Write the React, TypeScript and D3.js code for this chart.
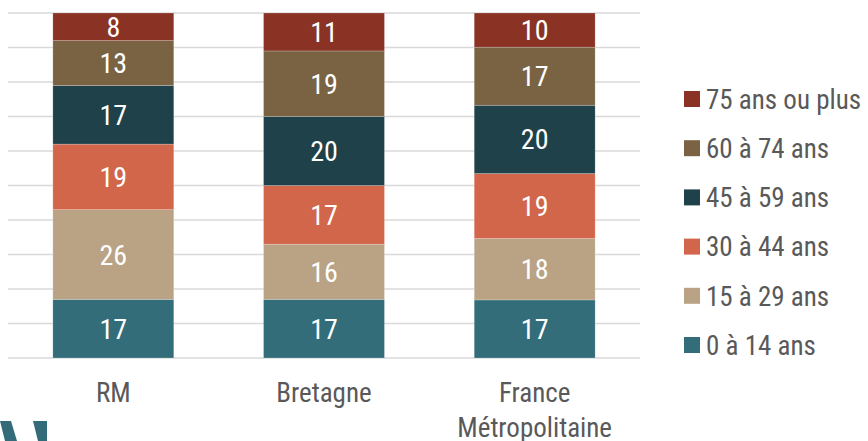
import React from "react";
import * as d3 from "d3";

const categories = ["RM", "Bretagne", "France Métropolitaine"];
const categoryLines = [["RM"], ["Bretagne"], ["France", "Métropolitaine"]];
const seriesNames = ["0 à 14 ans", "15 à 29 ans", "30 à 44 ans", "45 à 59 ans", "60 à 74 ans", "75 ans ou plus"];
const age0_14 = [17, 17, 17];
const age15_29 = [26, 16, 18];
const age30_44 = [19, 17, 19];
const age45_59 = [17, 20, 20];
const age60_74 = [13, 19, 17];
const age75plus = [8, 11, 10];
const colors = ["#326d79", "#b9a384", "#d2664b", "#1f414a", "#7a6343", "#8a3324"];
const gridTicks = [0, 0.1, 0.2, 0.3, 0.4, 0.5, 0.6, 0.7, 0.8, 0.9, 1];

const W = 868;
const H = 441;
const FONT = "'Roboto Condensed', Roboto, 'Noto Sans', sans-serif";

export default function App() {
  const seriesValues = [age0_14, age15_29, age30_44, age45_59, age60_74, age75plus];
  const rows = categories.map((c, i) => {
    const r: any = { cat: c };
    seriesNames.forEach((s, k) => (r[s] = seriesValues[k][i]));
    return r;
  });
  const stack = d3.stack<any>().keys(seriesNames).offset(d3.stackOffsetExpand);
  const stacked = stack(rows);

  const x = d3.scaleBand<string>().domain(categories).range([8, 640]).paddingInner(0.426).paddingOuter(0.213);
  const y = d3.scaleLinear().domain([0, 1]).range([358, 13]);

  const legendY = d3.scalePoint<string>().domain([...seriesNames].reverse()).range([99, 345]);

  return (
    <svg width={W} height={H} style={{ position: "absolute", left: 0, top: 0, background: "#fff" }} fontFamily={FONT}>
      {gridTicks.map((t) => (
        <line key={t} x1={8} x2={640} y1={y(t)} y2={y(t)} stroke="#d9d9d9" strokeWidth={1.5} />
      ))}
      {stacked.map((s, k) => (
        <g key={s.key}>
          {s.map((d, i) => {
            const cat = categories[i];
            const y0 = y(d[0]);
            const y1 = y(d[1]);
            return (
              <rect
                key={cat}
                x={x(cat)}
                y={y1}
                width={x.bandwidth()}
                height={y0 - y1}
                fill={colors[k]}
                stroke="#ffffff"
                strokeOpacity={0.35}
                strokeWidth={0.6}
              />
            );
          })}
        </g>
      ))}
      {stacked.map((s, k) => (
        <g key={s.key + "-lbl"}>
          {s.map((d, i) => {
            const cat = categories[i];
            const y0 = y(d[0]);
            const y1 = y(d[1]);
            return (
              <text
                key={cat}
                x={(x(cat) as number) + x.bandwidth() / 2}
                y={(y0 + y1) / 2}
                dy="0.36em"
                textAnchor="middle"
                fill="#fff"
                fontSize={28}
              >
                {seriesValues[k][i]}
              </text>
            );
          })}
        </g>
      ))}
      {categories.map((c, i) => (
        <g key={c}>
          {categoryLines[i].map((ln, j) => (
            <text
              key={j}
              x={(x(c) as number) + x.bandwidth() / 2}
              y={402 + j * 35}
              textAnchor="middle"
              fill="#595959"
              fontSize={27}
            >
              {ln}
            </text>
          ))}
        </g>
      ))}
      {[...seriesNames].reverse().map((s) => {
        const k = seriesNames.indexOf(s);
        const cy = legendY(s) as number;
        return (
          <g key={s}>
            <rect x={684} y={cy - 8} width={16} height={16} fill={colors[k]} />
            <text x={706} y={cy} dy="0.36em" fill="#595959" fontSize={27}>
              {s}
            </text>
          </g>
        );
      })}
      <polygon points="0,421 11,421 17,441 5,441" fill="#336b78" />
      <polygon points="33,421 47,421 47,441 38,441" fill="#336b78" />
    </svg>
  );
}
